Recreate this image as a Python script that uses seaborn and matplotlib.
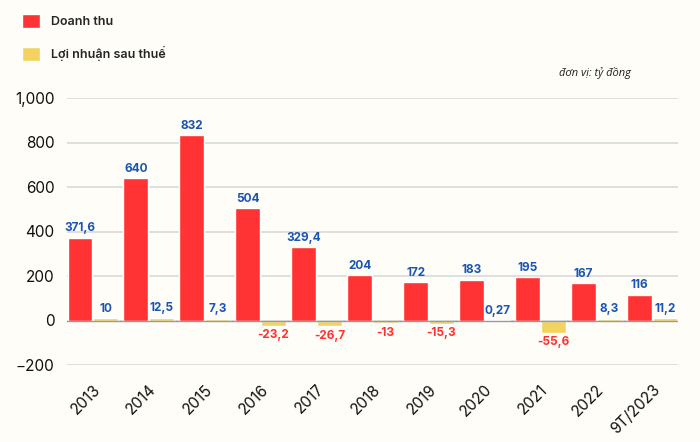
import matplotlib
matplotlib.use('Agg')
import matplotlib.pyplot as plt
import seaborn as sns
import pandas as pd
from matplotlib.ticker import FuncFormatter

# so lieu (ty dong)
years = ['2013', '2014', '2015', '2016', '2017', '2018', '2019', '2020',
         '2021', '2022', '9T/2023']
doanh_thu = [371.6, 640, 832, 504, 329.4, 204, 172, 183, 195, 167, 116]
loi_nhuan = [10, 12.5, 7.3, -23.2, -26.7, -13, -15.3, 0.27, -55.6, 8.3, 11.2]
series_names = ['Doanh thu', 'Lợi nhuận sau thuế']
y_ticks = [-200, 0, 200, 400, 600, 800, 1000]

bg = '#fffdf7'
red = '#ff3333'
yellow = '#f2d35f'
blue = '#1a55b5'

df = pd.DataFrame({
    'nam': years * 2,
    'gia_tri': doanh_thu + loi_nhuan,
    'chi_tieu': [series_names[0]] * len(years) + [series_names[1]] * len(years),
})

sns.set_theme(style='white')
plt.rcParams['font.family'] = ['Inter', 'DejaVu Sans']

fig = plt.figure(figsize=(7, 4.42), dpi=100, facecolor=bg)
ax = fig.add_axes([67 / 700, 1 - 365 / 442, 611 / 700, 267 / 442])
ax.set_facecolor(bg)

sns.barplot(data=df, x='nam', y='gia_tri', hue='chi_tieu',
            palette=[red, yellow], saturation=1, width=0.92, gap=0.04,
            ax=ax, zorder=3)

# nhan gia tri
for cont, vals in zip(ax.containers, [doanh_thu, loi_nhuan]):
    labels = [('{:g}'.format(v)).replace('.', ',') for v in vals]
    texts = ax.bar_label(cont, labels=labels, padding=2.5, fontsize=8.5,
                         fontweight='bold')
    for t, v in zip(texts, vals):
        t.set_color(blue if v >= 0 else red)

ax.set_ylim(-200, 1000)
ax.set_xlim(-0.46, len(years) - 0.54)
ax.set_yticks(y_ticks)
ax.yaxis.set_major_formatter(
    FuncFormatter(lambda v, p: '{:,}'.format(int(v)).replace('-', '\u2212')))
ax.grid(axis='y', color='#dcdcdc', linewidth=1.3, zorder=0)
ax.grid(axis='x', visible=False)
ax.axhline(0, color='#9a9a9a', linewidth=1, zorder=4)
for s in ax.spines.values():
    s.set_visible(False)
ax.set_xlabel('')
ax.set_ylabel('')
ax.tick_params(axis='y', length=0, pad=9, labelsize=11, labelcolor='#111111')
ax.tick_params(axis='x', length=0, pad=12, labelsize=11, labelcolor='#111111')
plt.setp(ax.get_xticklabels(), rotation=45, ha='right',
         rotation_mode='anchor')

handles, labs = ax.get_legend_handles_labels()
ax.legend(handles, labs, loc='upper left',
          bbox_to_anchor=(22 / 700, 1 - 14 / 442),
          bbox_transform=fig.transFigure, frameon=False,
          prop={'weight': 'semibold', 'size': 9},
          handlelength=1.45, handleheight=1.3, handletextpad=0.85,
          labelspacing=1.45, borderpad=0, borderaxespad=0)

fig.text(559 / 700, 1 - 73 / 442, 'đơn vị: tỷ đồng', fontsize=8,
         style='italic', family=['Open Sans', 'DejaVu Sans'],
         color='#222222', va='center', ha='left')

fig.savefig('out.png', dpi=100, facecolor=bg)
